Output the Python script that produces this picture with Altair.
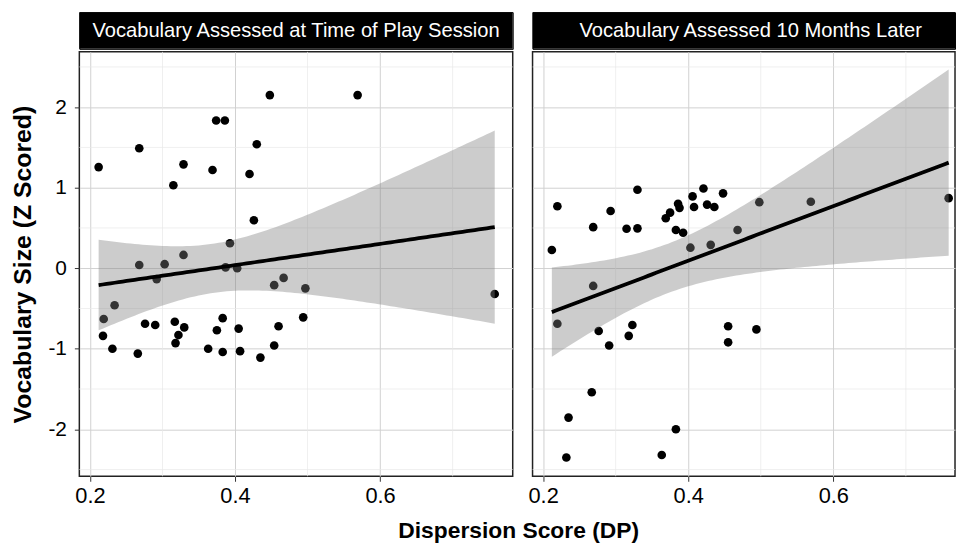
import numpy as np
import pandas as pd
import altair as alt

panel_titles = ["Vocabulary Assessed at Time of Play Session", "Vocabulary Assessed 10 Months Later"]
x_title = "Dispersion Score (DP)"
y_title = "Vocabulary Size (Z Scored)"

x_left = [0.212, 0.268, 0.315, 0.329, 0.369, 0.374, 0.386, 0.448, 0.569, 0.430, 0.420, 0.426,
          0.393, 0.329, 0.268, 0.303, 0.387, 0.403, 0.292, 0.454, 0.467, 0.497, 0.758, 0.234,
          0.219, 0.218, 0.231, 0.266, 0.276, 0.290, 0.317, 0.330, 0.322, 0.318, 0.363, 0.375,
          0.383, 0.383, 0.405, 0.407, 0.435, 0.454, 0.460, 0.494]
y_left = [1.256, 1.49, 1.03, 1.29, 1.22, 1.835, 1.835, 2.15, 2.15, 1.54, 1.17, 0.596,
          0.31, 0.165, 0.04, 0.05, 0.01, 0.0, -0.135, -0.21, -0.12, -0.25, -0.32, -0.46,
          -0.63, -0.84, -1.0, -1.06, -0.69, -0.705, -0.665, -0.735, -0.83, -0.93, -1.0, -0.77,
          -0.62, -1.04, -0.75, -1.03, -1.11, -0.96, -0.72, -0.61]

x_right = [0.212, 0.2196, 0.269, 0.293, 0.315, 0.330, 0.330, 0.369, 0.375, 0.386, 0.388, 0.383,
           0.393, 0.406, 0.408, 0.403, 0.421, 0.426, 0.436, 0.431, 0.448, 0.468, 0.498, 0.569,
           0.759, 0.269, 0.2196, 0.2766, 0.291, 0.318, 0.323, 0.455, 0.455, 0.494, 0.267, 0.235,
           0.232, 0.3635, 0.383]
y_right = [0.226, 0.77, 0.51, 0.71, 0.49, 0.495, 0.975, 0.62, 0.69, 0.80, 0.75, 0.475,
           0.44, 0.892, 0.76, 0.255, 0.99, 0.79, 0.76, 0.29, 0.93, 0.475, 0.82, 0.825,
           0.87, -0.22, -0.69, -0.78, -0.96, -0.84, -0.705, -0.72, -0.92, -0.76, -1.54, -1.855,
           -2.35, -2.32, -2.0]

x_major = [0.2, 0.4, 0.6]
x_minor = [0.3, 0.5, 0.7]
y_major = [-2, -1, 0, 1, 2]
y_minor = [-2.5, -1.5, -0.5, 0.5, 1.5, 2.5]

FONT = "Liberation Sans"
Y_DOMAIN = [-2.584, 2.687]
PX_PER_UNIT = 731.5
X0 = 0.1854
PLOT_H = 428
STRIP_H = 37


def smooth(xs, ys):
    x = np.asarray(xs, dtype=float)
    y = np.asarray(ys, dtype=float)
    n = len(x)
    b1, b0 = np.polyfit(x, y, 1)
    res = y - (b0 + b1 * x)
    s = np.sqrt(np.sum(res ** 2) / (n - 2))
    grid = np.linspace(x.min(), x.max(), 100)
    sxx = np.sum((x - x.mean()) ** 2)
    se = s * np.sqrt(1.0 / n + (grid - x.mean()) ** 2 / sxx)
    z = 1.959964
    df = n - 2
    t = z + (z ** 3 + z) / (4 * df) + (5 * z ** 5 + 16 * z ** 3 + 3 * z) / (96 * df ** 2)
    fit = b0 + b1 * grid
    return pd.DataFrame({"x": grid, "fit": fit, "lo": fit - t * se, "hi": fit + t * se})


def panel(xs, ys, width, left):
    xdom = [X0, X0 + width / PX_PER_UNIT]
    xs_scale = alt.Scale(domain=xdom, nice=False, zero=False)
    ys_scale = alt.Scale(domain=Y_DOMAIN, nice=False, zero=False)
    xaxis = alt.Axis(values=x_major, format=".1f", grid=True, gridColor="#d0d0d0", gridWidth=1,
                     tickColor="#333333", tickSize=5, tickWidth=1, labelFontSize=22,
                     labelPadding=4, labelColor="black", labelFont=FONT, domain=False,
                     title=None)
    if left:
        yaxis = alt.Axis(values=y_major, grid=True, gridColor="#d0d0d0", gridWidth=1,
                         tickColor="#333333", tickSize=5, tickWidth=1, labelFontSize=21,
                         labelPadding=8, labelColor="black", labelFont=FONT, domain=False,
                         labelExpr="datum.value < 0 ? '-' + abs(datum.value) : '' + datum.value",
                         title=y_title, titleFontSize=25, titleFontWeight="bold",
                         titlePadding=13, titleColor="black", titleFont=FONT)
    else:
        yaxis = alt.Axis(values=y_major, grid=True, gridColor="#d0d0d0", gridWidth=1,
                         labels=False, ticks=False, domain=False, title=None)

    pts = pd.DataFrame({"x": xs, "y": ys})
    sm = smooth(xs, ys)

    points = alt.Chart(pts).mark_circle(size=76, color="black", opacity=1).encode(
        x=alt.X("x:Q", scale=xs_scale, axis=xaxis),
        y=alt.Y("y:Q", scale=ys_scale, axis=yaxis))
    vminor = alt.Chart(pd.DataFrame({"x": x_minor})).mark_rule(
        color="#e8e8e8", strokeWidth=0.7).encode(x=alt.X("x:Q", scale=xs_scale, axis=xaxis))
    hminor = alt.Chart(pd.DataFrame({"y": y_minor})).mark_rule(
        color="#e8e8e8", strokeWidth=0.7).encode(y=alt.Y("y:Q", scale=ys_scale, axis=yaxis))
    band = alt.Chart(sm).mark_area(color="#7f7f7f", opacity=0.4).encode(
        x=alt.X("x:Q", scale=xs_scale, axis=xaxis),
        y=alt.Y("lo:Q", scale=ys_scale, axis=yaxis),
        y2="hi:Q")
    line = alt.Chart(sm).mark_line(color="black", strokeWidth=3.8).encode(
        x=alt.X("x:Q", scale=xs_scale, axis=xaxis),
        y=alt.Y("fit:Q", scale=ys_scale, axis=yaxis))
    return alt.layer(vminor, hminor, points, band, line).properties(
        width=width, height=PLOT_H,
        view=alt.ViewBackground(stroke="#222222", strokeWidth=1.5))


def strip(title, width, cx):
    d = pd.DataFrame({"t": [title]})
    rect = alt.Chart(d).mark_rect(color="black").encode(
        x=alt.value(0), x2=alt.value(width), y=alt.value(0), y2=alt.value(STRIP_H))
    txt = alt.Chart(d).mark_text(color="white", fontSize=20.3, font=FONT, align="center",
                                 baseline="alphabetic").encode(
        text="t:N", x=alt.value(cx), y=alt.value(25.5))
    return alt.layer(rect, txt).properties(
        width=width, height=STRIP_H,
        view=alt.ViewBackground(stroke="black", strokeWidth=1))


def xtitle_chart(width, cx):
    d = pd.DataFrame({"t": [x_title]})
    txt = alt.Chart(d).mark_text(color="black", fontSize=23, fontWeight="bold", font=FONT,
                                 align="center", baseline="top").encode(
        text="t:N", x=alt.value(cx), y=alt.value(0))
    return txt.properties(width=width, height=22,
                          view=alt.ViewBackground(strokeWidth=0))


W_LEFT = 437
W_RIGHT = 426
GAP = 12

left_col = alt.vconcat(strip(panel_titles[0], W_LEFT, 218.5), panel(x_left, y_left, W_LEFT, True),
                       spacing=0)
right_col = alt.vconcat(strip(panel_titles[1], W_RIGHT, 220), panel(x_right, y_right, W_RIGHT, False),
                        spacing=0)
panels = alt.hconcat(left_col, right_col, spacing=GAP)

chart = alt.vconcat(panels, xtitle_chart(W_LEFT + GAP + W_RIGHT, 443), spacing=13).properties(
    padding={"left": 9, "top": 9, "right": 0, "bottom": 1},
    background="white",
).configure(font=FONT)

chart.save("out.html", embed_options={"renderer": "svg", "actions": False})
